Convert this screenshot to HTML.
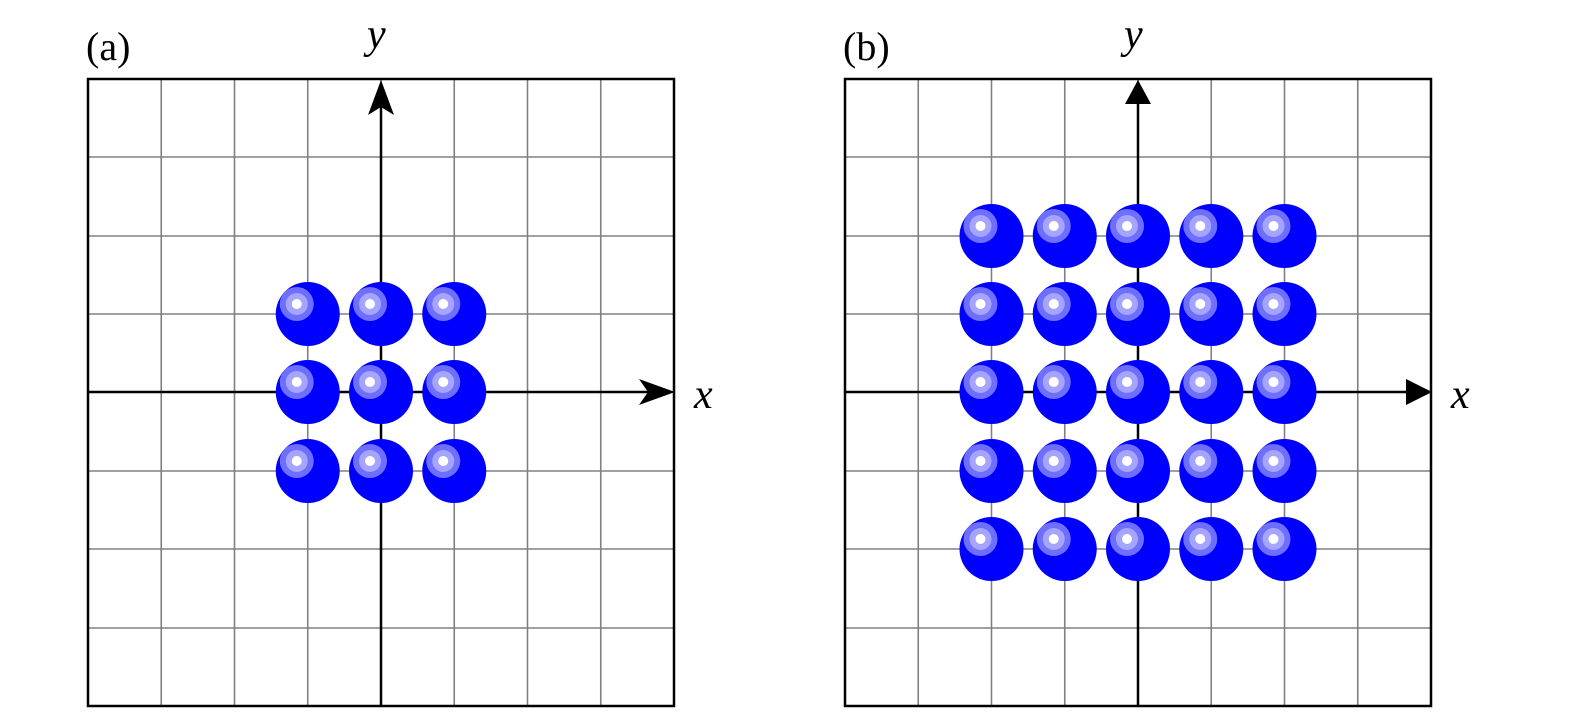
<!DOCTYPE html>
<html><head><meta charset="utf-8"><style>
html,body{margin:0;padding:0;background:#fff;width:1575px;height:719px;overflow:hidden}
text{font-family:"Liberation Serif",serif}
</style></head><body>
<svg id="s" width="1575" height="719" viewBox="0 0 1575 719" xmlns="http://www.w3.org/2000/svg" style="display:block">
<defs>
<g id="ball">
<circle r="32" fill="#0000ff"/>
<circle cx="-11" cy="-10" r="17" fill="#6f6fff"/>
<circle cx="-11" cy="-10" r="11" fill="#a5a5ff"/>
<circle cx="-11" cy="-10" r="5" fill="#ffffff"/>
</g>
</defs>
<text x="86" y="60" font-size="40">(a)</text>
<text x="843" y="60" font-size="40">(b)</text>
<text x="367" y="48" font-size="42" font-style="italic">y</text>
<text x="1124" y="48" font-size="42" font-style="italic">y</text>
<text x="694" y="408" font-size="42" font-style="italic">x</text>
<text x="1451" y="408" font-size="42" font-style="italic">x</text>
</svg>
<script>
var s=document.getElementById('s'),NS='http://www.w3.org/2000/svg';
function el(t,a){var e=document.createElementNS(NS,t);for(var k in a)e.setAttribute(k,a[k]);s.appendChild(e);return e;}
var rows=[79,157,236,314,392,471,549,628,706];
function panel(L,R,cx,stealth,n){
  var w=(R-L)/8,cols=[];for(var i=0;i<=8;i++)cols.push(L+i*w);
  for(var i=1;i<8;i++){el('line',{x1:cols[i],y1:79,x2:cols[i],y2:706,stroke:'#808080','stroke-width':1.6});
    el('line',{x1:L,y1:rows[i],x2:R,y2:rows[i],stroke:'#808080','stroke-width':1.6});}
  el('rect',{x:L,y:79,width:R-L,height:627,fill:'none',stroke:'#000','stroke-width':2.5});
  el('line',{x1:L,y1:392,x2:R-20,y2:392,stroke:'#000','stroke-width':2.5});
  el('line',{x1:cx,y1:706,x2:cx,y2:100,stroke:'#000','stroke-width':2.5});
  if(stealth){
    el('path',{d:'M'+(R+1)+' 392 L'+(R-35)+' 379 L'+(R-26)+' 392 L'+(R-35)+' 405 Z',fill:'#000'});
    el('path',{d:'M'+cx+' 80 L'+(cx-13)+' 115 L'+cx+' 107 L'+(cx+13)+' 115 Z',fill:'#000'});
  }else{
    el('path',{d:'M'+(R+1)+' 392 L'+(R-25)+' 379 L'+(R-25)+' 405 Z',fill:'#000'});
    el('path',{d:'M'+cx+' 80 L'+(cx-13)+' 104 L'+(cx+13)+' 104 Z',fill:'#000'});
  }
  var ci=Math.round((cx-L)/w),h=(n-1)/2;
  for(var r=-h;r<=h;r++)for(var c=-h;c<=h;c++){
    el('use',{href:'#ball',x:cols[ci+c],y:rows[4+r]});
  }
}
panel(88,674,381,true,3);
panel(845,1431,1138,false,5);
</script>
</body></html>
